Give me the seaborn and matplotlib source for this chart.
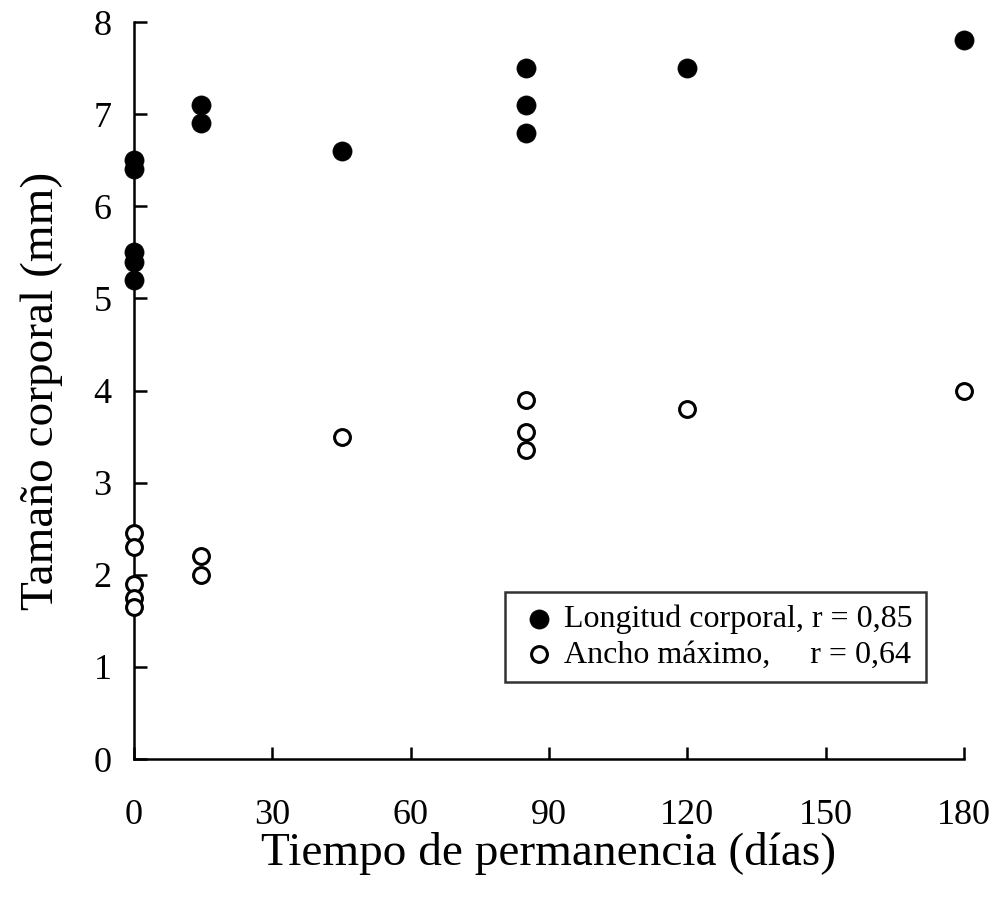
import matplotlib
matplotlib.use("Agg")
import matplotlib.pyplot as plt
import seaborn as sns
import pandas as pd

# Data
dias_long = [0, 0, 0, 0, 0, 14.5, 14.5, 45, 85, 85, 85, 120, 180]
longitud = [6.5, 6.4, 5.5, 5.4, 5.2, 7.1, 6.9, 6.6, 7.5, 7.1, 6.8, 7.5, 7.8]
dias_ancho = [0, 0, 0, 0, 0, 14.5, 14.5, 45, 85, 85, 85, 120, 180]
ancho = [2.45, 2.3, 1.9, 1.75, 1.65, 2.2, 2.0, 3.5, 3.9, 3.55, 3.35, 3.8, 4.0]

xticks = [0, 30, 60, 90, 120, 150, 180]
yticks = [0, 1, 2, 3, 4, 5, 6, 7, 8]
label_long = "Longitud corporal, r = 0,85"
label_ancho = "Ancho máximo,     r = 0,64"

sns.set_theme(style="ticks")
plt.rcParams['font.family'] = ['Liberation Serif', 'DejaVu Serif']

df_long = pd.DataFrame({"dias": dias_long, "valor": longitud})
df_ancho = pd.DataFrame({"dias": dias_ancho, "valor": ancho})

fig = plt.figure(figsize=(9.96, 8.99), dpi=100)
ax = fig.add_axes([0.1345, 0.1557, 0.8335, 0.8198])

sns.scatterplot(data=df_long, x="dias", y="valor", ax=ax, color="black",
                edgecolor="black", s=190, linewidth=0.5, label=label_long,
                clip_on=False, zorder=3)
sns.scatterplot(data=df_ancho, x="dias", y="valor", ax=ax, color="white",
                edgecolor="black", s=130, linewidth=2.2, label=label_ancho,
                clip_on=False, zorder=3)

ax.set_xlim(0, 180)
ax.set_ylim(0, 8)
ax.set_xticks(xticks)
ax.set_yticks(yticks)
ax.tick_params(axis="both", direction="in", length=9, width=1.8,
               labelsize=26, colors="black", bottom=True, left=True)
ax.tick_params(axis="y", pad=16)
ax.tick_params(axis="x", pad=29)
for side in ["top", "right"]:
    ax.spines[side].set_visible(False)
for side in ["left", "bottom"]:
    ax.spines[side].set_linewidth(1.8)
    ax.spines[side].set_color("black")

ax.set_xlabel("Tiempo de permanencia (días)", fontsize=34, color="black", labelpad=0)
ax.set_ylabel("Tamaño corporal (mm)", fontsize=34, color="black", labelpad=22)

leg = ax.legend(loc="upper left", bbox_to_anchor=(505 / 996, 1 - 592 / 899),
                bbox_transform=fig.transFigure, borderaxespad=0, frameon=True,
                fancybox=False, edgecolor="black", fontsize=23,
                handletextpad=0.15, handlelength=1.3, borderpad=0.4,
                labelspacing=0.18, markerscale=1.0)
leg.get_frame().set_linewidth(1.8)
for t in leg.get_texts():
    t.set_color("black")

fig.savefig("out.png", dpi=100, facecolor="white")
